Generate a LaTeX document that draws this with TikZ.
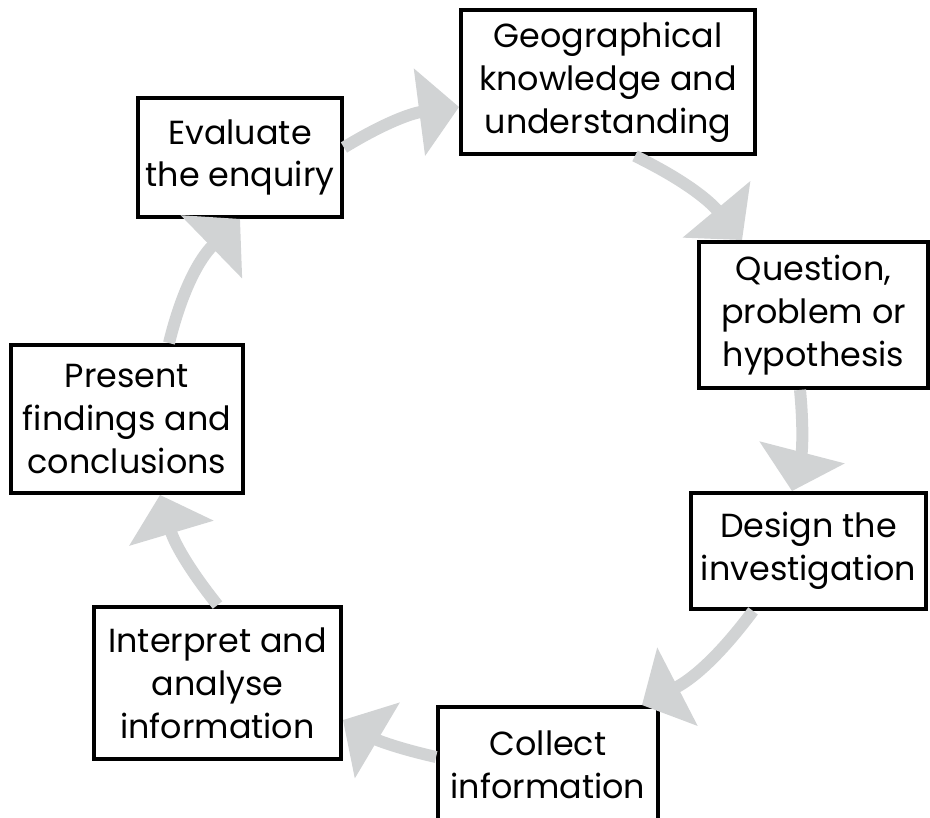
\documentclass[tikz,border=0pt]{standalone}
\usepackage{fontspec}
\setmainfont{Poppins}
\usetikzlibrary{arrows.meta}

\definecolor{cyclegray}{RGB}{209,211,212}

\begin{document}
\begin{tikzpicture}[
  stage/.style={draw, line width=2.2pt, align=center, inner sep=0pt,
    font=\fontsize{19}{24.4}\selectfont},
  cyc/.style={draw=cyclegray, line width=0.24cm,
    -{Triangle[width=1.72cm,length=0.8cm]}}
]
  \useasboundingbox (0,0) rectangle (18.6,16.34);

  % Stages of the enquiry
  \node[stage, minimum width=5.88cm, minimum height=2.88cm] (geo) at (12.16,14.70) {Geographical\\knowledge and\\understanding};
  \node[stage, minimum width=4.58cm, minimum height=2.92cm] (quest) at (16.27,10.04) {Question,\\problem or\\hypothesis};
  \node[stage, minimum width=4.70cm, minimum height=2.32cm] (design) at (16.17,5.32) {Design the\\investigation};
  \node[stage, minimum width=4.40cm, minimum height=2.32cm] (collect) at (10.96,1.04) {Collect\\information};
  \node[stage, minimum width=4.94cm, minimum height=3.04cm] (interp) at (4.35,2.68) {Interpret and\\analyse\\information};
  \node[stage, minimum width=4.64cm, minimum height=2.96cm] (present) at (2.54,7.96) {Present\\findings and\\conclusions};
  \node[stage, minimum width=4.08cm, minimum height=2.38cm] (eval) at (4.80,13.19) {Evaluate\\the enquiry};

  % Arrows round the cycle
  \draw[cyc] ([yshift=0.2cm]eval.east) to[bend left=12] ([yshift=-0.5cm]geo.west);
  \draw[cyc] ([xshift=0.54cm]geo.south) to[bend left=12] ([xshift=0.9cm]quest.north west);
  \draw[cyc] ([xshift=-0.27cm]quest.south) to[bend left=10] ([xshift=-0.33cm]design.north);
  \draw[cyc] ([xshift=-1.11cm]design.south) to[bend left=13] ([xshift=-0.36cm]collect.north east);
  \draw[cyc] ([yshift=0.16cm]collect.west) to[bend left=9] ([yshift=-0.74cm]interp.east);
  \draw[cyc] (interp.north) to[bend left=11] ([xshift=0.66cm]present.south);
  \draw[cyc] ([xshift=0.84cm]present.north) to[bend left=16] (eval.south);
\end{tikzpicture}
\end{document}
